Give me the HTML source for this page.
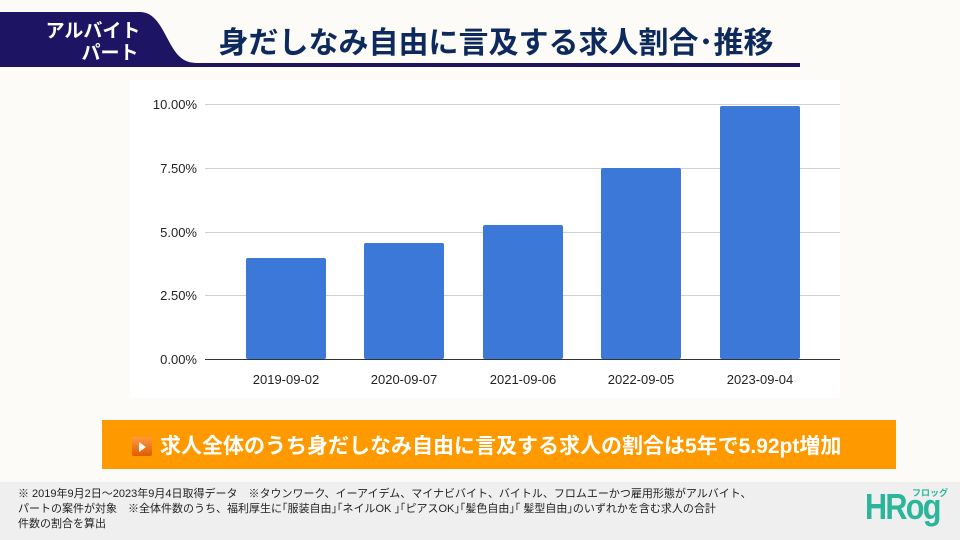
<!DOCTYPE html>
<html><head><meta charset="utf-8"><style>
body{margin:0;width:960px;height:540px;background:#fcfbf8;position:relative;overflow:hidden;font-family:"Liberation Sans","Noto Sans CJK JP",sans-serif}
.a{position:absolute}
</style></head><body>
<svg class="a" style="left:0;top:0" width="960" height="80">
<path d="M0 12 L140 12 C160 12 165 40 178 55 C185 62 190 63 200 63 L800 63 L800 67 L0 67 Z" fill="#1e1464"/>
<text x="93" y="37" fill="#fff" font-size="19" font-weight="bold" text-anchor="middle" font-family="Liberation Sans,Noto Sans CJK JP,sans-serif">アルバイト</text>
<text x="110" y="59" fill="#fff" font-size="19" font-weight="bold" text-anchor="middle" font-family="Liberation Sans,Noto Sans CJK JP,sans-serif">パート</text>
<text x="496" y="53" fill="#0e2a5c" font-size="30" font-weight="bold" text-anchor="middle" font-family="Liberation Sans,Noto Sans CJK JP,sans-serif">身だしなみ自由に言及する求人割合･推移</text>
</svg>
<svg class="a" style="left:130px;top:80px" width="710" height="318">
<rect width="710" height="318" fill="#fff"/>
<g stroke="#d0d0d0" stroke-width="1"><line x1="75" x2="710" y1="24.5" y2="24.5"/><line x1="75" x2="710" y1="88.5" y2="88.5"/><line x1="75" x2="710" y1="152.5" y2="152.5"/><line x1="75" x2="710" y1="215.5" y2="215.5"/></g>
<g fill="#222" font-size="13" text-anchor="end" font-family="Liberation Sans,sans-serif"><text x="67" y="29">10.00%</text><text x="67" y="93">7.50%</text><text x="67" y="157">5.00%</text><text x="67" y="220">2.50%</text><text x="67" y="284">0.00%</text></g>
<g fill="#3c78d8"><rect x="116" y="178" width="80" height="101" rx="2"/><rect x="234" y="163" width="80" height="116" rx="2"/><rect x="353" y="145" width="80" height="134" rx="2"/><rect x="471" y="88" width="80" height="191" rx="2"/><rect x="590" y="26" width="80" height="253" rx="2"/></g>
<line x1="75" x2="710" y1="279.5" y2="279.5" stroke="#333"/>
<g fill="#222" font-size="13" text-anchor="middle" font-family="Liberation Sans,sans-serif"><text x="156" y="304">2019-09-02</text><text x="274" y="304">2020-09-07</text><text x="393" y="304">2021-09-06</text><text x="511" y="304">2022-09-05</text><text x="630" y="304">2023-09-04</text></g>
</svg>
<div class="a" style="left:102px;top:420px;width:794px;height:49px;background:#ff9900"></div>
<div class="a" style="left:132px;top:437px;width:20px;height:19px;background:linear-gradient(#ff9a40,#e25a00);border-radius:2px"></div>
<div class="a" style="left:139px;top:442px;width:0;height:0;border-left:7px solid #fff;border-top:5px solid transparent;border-bottom:5px solid transparent"></div>
<div class="a" style="left:160px;top:430px;color:#fff;font-size:21px;font-weight:bold;white-space:nowrap">求人全体のうち身だしなみ自由に言及する求人の割合は5年で5.92pt増加</div>
<div class="a" style="left:0;top:482px;width:960px;height:58px;background:#efefef"></div>
<div class="a" style="left:18px;top:487px;font-size:11px;line-height:15px;color:#222;width:800px;white-space:nowrap">※ 2019年9月2日～2023年9月4日取得データ　※タウンワーク、イーアイデム、マイナビバイト、バイトル、フロムエーかつ雇用形態がアルバイト、<br>パートの案件が対象　※全体件数のうち、福利厚生に｢服装自由｣｢ネイルOK ｣｢ピアスOK｣｢髪色自由｣｢ 髪型自由｣のいずれかを含む求人の合計<br>件数の割合を算出</div>
<div class="a" style="left:865px;top:486px;color:#2bb59a;font-size:36px;font-weight:bold;letter-spacing:-2px;transform:scaleX(0.85);transform-origin:left">HRog</div>
<div class="a" style="left:912px;top:486px;color:#2bb59a;font-size:9px;font-weight:bold">フロッグ</div>
</body></html>
